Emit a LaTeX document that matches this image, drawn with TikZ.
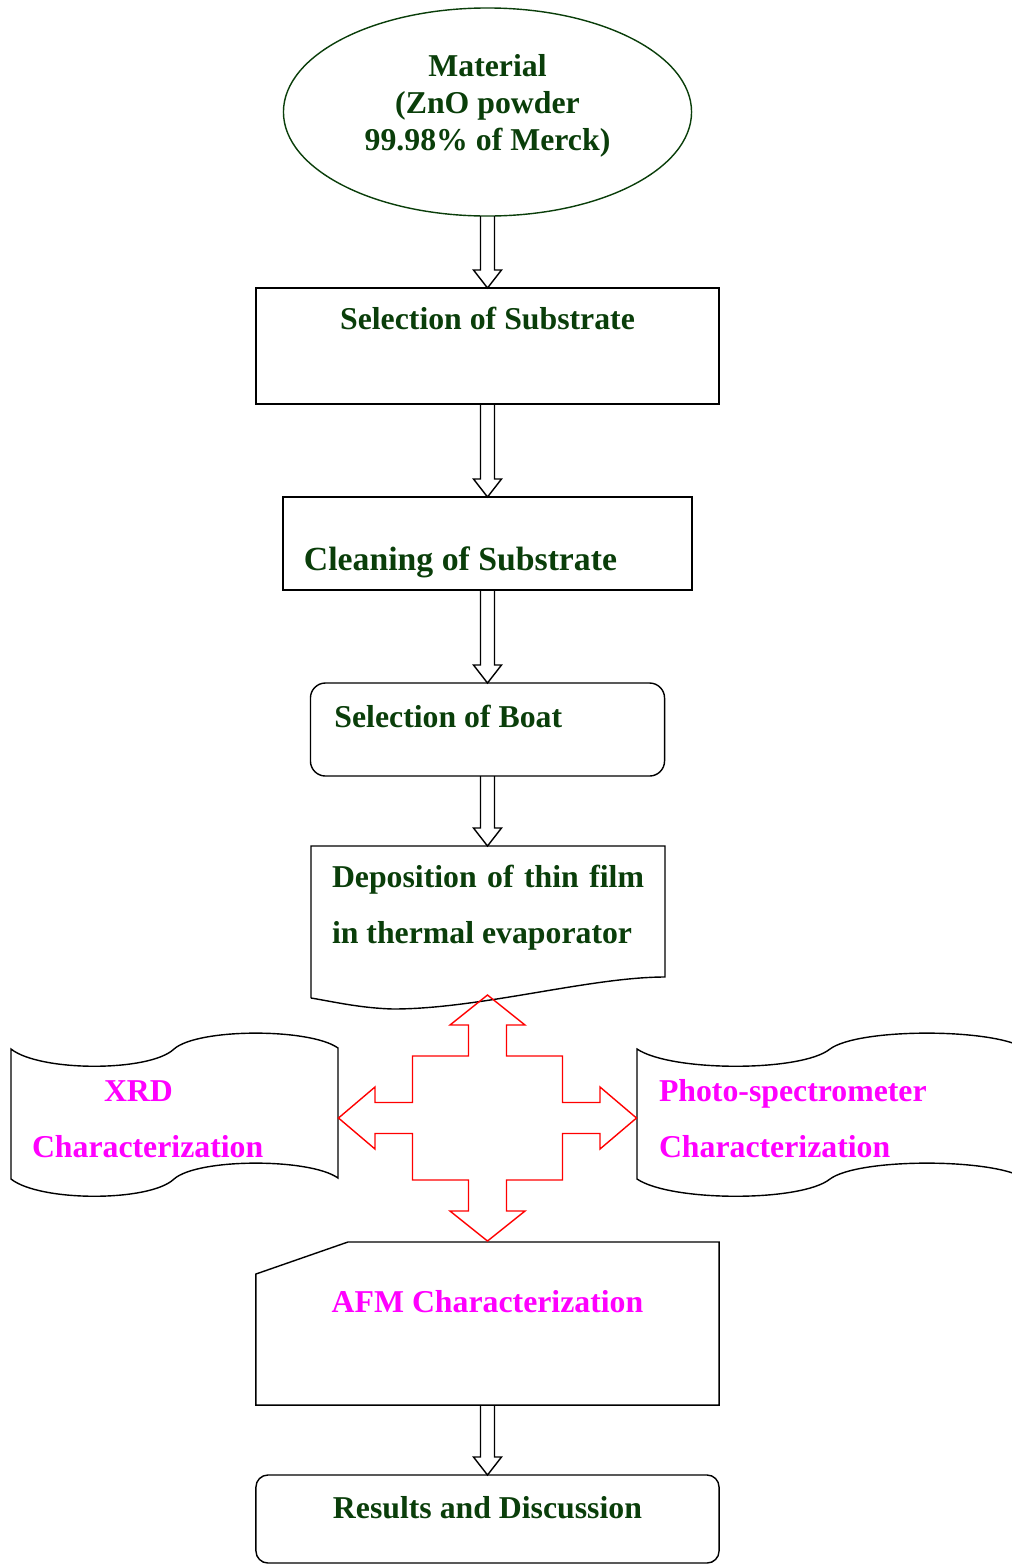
\documentclass[tikz,border=0pt]{standalone}
\usepackage{fontspec}
\setmainfont{Liberation Serif}
\usepackage{tikz}
\usetikzlibrary{shapes.geometric, calc, positioning}

\definecolor{leafgreen}{RGB}{10,62,10}
\definecolor{pinkish}{RGB}{255,0,255}

% hollow block arrow between two points
\newcommand{\blockarrow}[2]{%
  \path (#1) coordinate (ba-from) (#2) coordinate (ba-to);
  \draw[arrowline] ($(ba-from)+(-7,0)$) -- ($(ba-to)+(-7,-18)$) -- ($(ba-to)+(-14,-18)$)
    -- (ba-to) -- ($(ba-to)+(14,-18)$) -- ($(ba-to)+(7,-18)$) -- ($(ba-from)+(7,0)$);}

% wave outline, top left corner at the origin
\newcommand{\waveframe}{%
  \draw (0,0) .. controls (29,23) and (139,23) .. (163,0)
    .. controls (187,-21) and (299,-21) .. (327,-1)
    -- (327,129) .. controls (299,109) and (187,109) .. (163,130)
    .. controls (139,153) and (29,153) .. (0,130) -- cycle;}

\begin{document}
\begin{tikzpicture}[x=0.025cm, y=-0.025cm, line width=1pt,
    every node/.style={outer sep=0pt, font=\fontsize{22.6}{39.8}\selectfont\bfseries},
    greentext/.style={text=leafgreen},
    pinktext/.style={text=pinkish},
    stepbox/.style={draw, greentext, inner ysep=0pt, anchor=north},
    arrowline/.style={draw=black, line width=1pt, line join=miter},
    crossline/.style={draw=red, line width=1pt, line join=miter}]

    \useasboundingbox (0,0) rectangle (1012,1566);
    \clip (0,0) rectangle (1012,1566);

    % Material
    \node[ellipse, draw=leafgreen, minimum width=10.2cm, minimum height=5.2cm] (mat) at (487.5,112) {};
    \node[greentext, align=center, anchor=base, inner sep=0pt,
          font=\fontsize{22.6}{26.3}\selectfont\bfseries] (mattext) at (487.5,150)
          {Material\\(ZnO powder\\99.98\% of Merck)};

    % Preparation steps
    \node[stepbox, minimum width=11.575cm, text height=1.025cm, text depth=1.875cm] (sub) at (487.5,288) {Selection of Substrate};
    \node[stepbox, font=\fontsize{24}{28}\selectfont\bfseries, inner xsep=0.525cm,
          text height=1.825cm, text depth=0.5cm] (clean) at (487.5,497) {\makebox[9.175cm][l]{Cleaning of Substrate}};
    \node[stepbox, rounded corners=0.375cm, inner xsep=0.6cm,
          text height=1.1cm, text depth=1.225cm] (boat) at (487.5,683) {\makebox[7.65cm][l]{Selection of Boat}};

    % Deposition
    \coordinate (dep-top) at (487.5,846);
    \draw (311,998) -- (311,846) -- (665,846) -- (665,977)
      .. controls (590,977) and (480,1009) .. (393,1009)
      .. controls (360,1008) and (335,1002) .. (311,998);
    \node[greentext, align=left, anchor=base west, inner sep=0pt] (dep) at (332,943)
      {\makebox[7.8cm][s]{Deposition of thin film}\\in thermal evaporator};

    % Characterization
    \begin{scope}[shift={(11,1049)}]
      \waveframe
    \end{scope}
    \begin{scope}[shift={(637,1049)}, xscale=1.184]
      \waveframe
    \end{scope}
    \node[pinktext, align=left, anchor=base west, inner sep=0pt] (xrd) at (32,1157)
      {\hspace{1.8cm}XRD\\Characterization};
    \node[pinktext, align=left, anchor=base west, inner sep=0pt] (photo) at (659,1157)
      {Photo-spectrometer\\Characterization};

    \node[pinktext, minimum width=11.575cm, inner ysep=0pt, text height=1.75cm, text depth=2.325cm,
          anchor=north] (afm) at (487.5,1242) {AFM Characterization};
    \draw ($(afm.north west)+(0,32)$) -- ($(afm.north west)+(92,0)$) -- (afm.north east)
      -- (afm.south east) -- (afm.south west) -- cycle;

    % Results
    \node[stepbox, rounded corners=0.3cm, minimum width=11.575cm, text height=1.075cm,
          text depth=1.125cm] (res) at (487.5,1475) {Results and Discussion};

    % Four way arrow
    \coordinate (hub) at (487.5,1118);
    \draw[crossline, shift={(hub)}] (0,-123) -- (37.5,-93) -- (19,-93) -- (19,-62) -- (75,-62)
      -- (75,-15.5) -- (112.5,-15.5) -- (112.5,-31) -- (149,0) -- (112.5,31) -- (112.5,15.5)
      -- (75,15.5) -- (75,62) -- (19,62) -- (19,93) -- (37.5,93) -- (0,123) -- (-37.5,93)
      -- (-19,93) -- (-19,62) -- (-75,62) -- (-75,15.5) -- (-112.5,15.5) -- (-112.5,31)
      -- (-149,0) -- (-112.5,-31) -- (-112.5,-15.5) -- (-75,-15.5) -- (-75,-62) -- (-19,-62)
      -- (-19,-93) -- (-37.5,-93) -- cycle;

    % Arrows
    \blockarrow{mat.south}{sub.north}
    \blockarrow{sub.south}{clean.north}
    \blockarrow{clean.south}{boat.north}
    \blockarrow{boat.south}{dep-top}
    \blockarrow{afm.south}{res.north}
\end{tikzpicture}
\end{document}
